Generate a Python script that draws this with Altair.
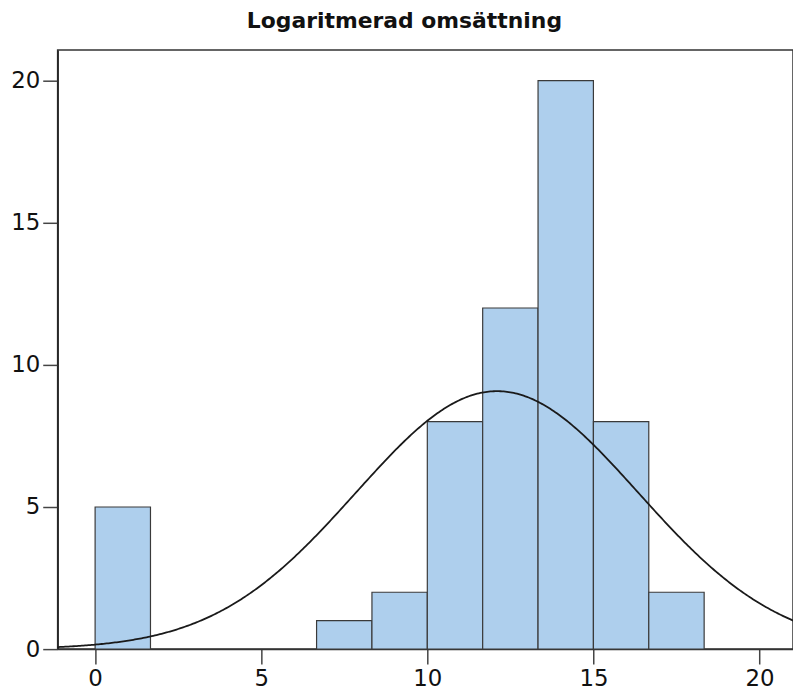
import altair as alt
import pandas as pd

# Histogram data
bin_starts = [0.0, 20/3, 25/3, 10.0, 35/3, 40/3, 15.0, 50/3]
counts = [5, 1, 2, 8, 12, 20, 8, 2]
bin_width = 5/3

# Fitted normal curve parameters
curve_mean = 12.1
curve_sd = 4.25
n_total = sum(counts)

x_ticks = [0, 5, 10, 15, 20]
y_ticks = [0, 5, 10, 15, 20]

df = pd.DataFrame({
    "start": bin_starts,
    "end": [s + bin_width for s in bin_starts],
    "count": counts,
})

FONT = "DejaVu Sans"
x_scale = alt.Scale(domain=[-1.128, 21.008], nice=False, zero=False)
y_scale = alt.Scale(domain=[0, 21.08], nice=False, zero=False)

bars = alt.Chart(df).mark_rect(
    fill="#aecfed", stroke="#3a3a3a", strokeWidth=1.2
).encode(
    x=alt.X("start:Q", scale=x_scale,
            axis=alt.Axis(values=x_ticks, title=None, grid=False, tickSize=15,
                          tickColor="#444", domainColor="#333", labelFontSize=23,
                          labelFont=FONT, labelColor="#111", labelPadding=4,
                          tickWidth=1.5, domainWidth=1.5)),
    x2="end:Q",
    y=alt.Y("count:Q", scale=y_scale,
            axis=alt.Axis(values=y_ticks, title=None, grid=False, tickSize=15,
                          tickColor="#444", domainColor="#222", labelFontSize=23,
                          labelFont=FONT, labelColor="#111", labelPadding=3,
                          tickWidth=1.5, domainWidth=1.5)),
    y2=alt.datum(0),
)

amp = n_total * bin_width / (curve_sd * 2.5066282746)
curve = alt.Chart(alt.sequence(-1.2, 21.2, 0.05, as_="x")).transform_calculate(
    y=f"{amp}*exp(-0.5*pow((datum.x-{curve_mean})/{curve_sd},2))"
).mark_line(color="#1a1a1a", strokeWidth=1.8, clip=True).encode(
    x=alt.X("x:Q", scale=x_scale),
    y=alt.Y("y:Q", scale=y_scale),
)

chart = alt.layer(bars, curve).properties(
    width=740,
    height=603,
    autosize=alt.AutoSizeParams(type="none"),
    padding={"left": 58, "top": 48, "right": 0, "bottom": 49},
    title=alt.TitleParams("Logaritmerad omsättning", font=FONT, fontSize=22,
                          fontWeight="bold", color="#111", anchor="middle",
                          dx=-21, offset=17),
).configure_view(stroke="#333", strokeWidth=1.5)

chart.save("out.html", embed_options={"renderer": "svg", "actions": False})
